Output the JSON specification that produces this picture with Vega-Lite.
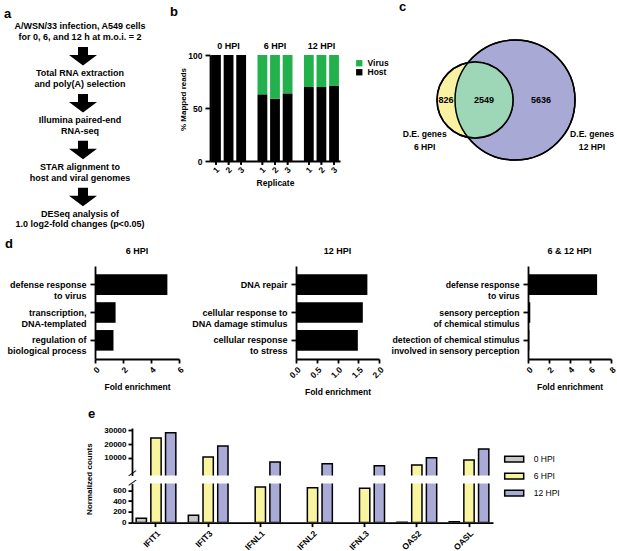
{
  "$schema": "https://vega.github.io/schema/vega-lite/v6.json",
  "background": "white",
  "padding": {"left": 4, "top": 0, "right": 0, "bottom": 0},
  "config": {
    "font": "Liberation Sans",
    "view": {"stroke": null},
    "axis": {"domainColor": "#000", "domainWidth": 1.8, "tickColor": "#000", "tickWidth": 1.8, "tickSize": 4, "labelColor": "#000", "labelFontWeight": "bold", "labelFontSize": 8.5, "labelPadding": 2, "titleColor": "#000", "titleFontWeight": "bold", "titleFontSize": 8.5, "grid": false, "labelFlush": false, "labelOverlap": false},
    "legend": {"labelColor": "#000", "labelFontSize": 8.5, "labelFontWeight": "bold", "padding": 0},
    "title": {"color": "#000", "fontWeight": "bold", "fontSize": 9},
    "text": {"color": "#000", "fontWeight": "bold"}
  },
  "datasets": {
    "flow": [
      {"step": 0, "text": "A/WSN/33 infection, A549 cells\nfor 0, 6, and 12 h at m.o.i. = 2"},
      {"step": 1, "text": "Total RNA extraction\nand poly(A) selection"},
      {"step": 2, "text": "Illumina paired-end\nRNA-seq"},
      {"step": 3, "text": "STAR alignment to\nhost and viral genomes"},
      {"step": 4, "text": "DESeq analysis of\n1.0 log2-fold changes (p<0.05)"}
    ],
    "reads": [
      {"hpi": "0 HPI", "rep": "1", "type": "Host", "pct": 100}, {"hpi": "0 HPI", "rep": "1", "type": "Virus", "pct": 0},
      {"hpi": "0 HPI", "rep": "2", "type": "Host", "pct": 100}, {"hpi": "0 HPI", "rep": "2", "type": "Virus", "pct": 0},
      {"hpi": "0 HPI", "rep": "3", "type": "Host", "pct": 100}, {"hpi": "0 HPI", "rep": "3", "type": "Virus", "pct": 0},
      {"hpi": "6 HPI", "rep": "1", "type": "Host", "pct": 62.9}, {"hpi": "6 HPI", "rep": "1", "type": "Virus", "pct": 37.1},
      {"hpi": "6 HPI", "rep": "2", "type": "Host", "pct": 58.8}, {"hpi": "6 HPI", "rep": "2", "type": "Virus", "pct": 41.2},
      {"hpi": "6 HPI", "rep": "3", "type": "Host", "pct": 63.8}, {"hpi": "6 HPI", "rep": "3", "type": "Virus", "pct": 36.2},
      {"hpi": "12 HPI", "rep": "1", "type": "Host", "pct": 69.8}, {"hpi": "12 HPI", "rep": "1", "type": "Virus", "pct": 30.2},
      {"hpi": "12 HPI", "rep": "2", "type": "Host", "pct": 69.8}, {"hpi": "12 HPI", "rep": "2", "type": "Virus", "pct": 30.2},
      {"hpi": "12 HPI", "rep": "3", "type": "Host", "pct": 70.8}, {"hpi": "12 HPI", "rep": "3", "type": "Virus", "pct": 29.2}
    ],
    "go": [
      {"panel": "6 HPI", "term": "defense response|to virus", "fold": 5.17},
      {"panel": "6 HPI", "term": "transcription,|DNA-templated", "fold": 1.47},
      {"panel": "6 HPI", "term": "regulation of|biological process", "fold": 1.32},
      {"panel": "12 HPI", "term": "DNA repair", "fold": 1.72},
      {"panel": "12 HPI", "term": "cellular response to|DNA damage stimulus", "fold": 1.61},
      {"panel": "12 HPI", "term": "cellular response|to stress", "fold": 1.49},
      {"panel": "6 & 12 HPI", "term": "defense response|to virus", "fold": 6.66},
      {"panel": "6 & 12 HPI", "term": "sensory perception|of chemical stimulus", "fold": 0.22},
      {"panel": "6 & 12 HPI", "term": "detection of chemical stimulus|involved in sensory perception", "fold": 0.13}
    ],
    "counts": [
      {"gene": "IFIT1", "hpi": "0 HPI", "count": 80}, {"gene": "IFIT1", "hpi": "6 HPI", "count": 24400}, {"gene": "IFIT1", "hpi": "12 HPI", "count": 28300},
      {"gene": "IFIT3", "hpi": "0 HPI", "count": 136}, {"gene": "IFIT3", "hpi": "6 HPI", "count": 10500}, {"gene": "IFIT3", "hpi": "12 HPI", "count": 18600},
      {"gene": "IFNL1", "hpi": "0 HPI", "count": 0}, {"gene": "IFNL1", "hpi": "6 HPI", "count": 662}, {"gene": "IFNL1", "hpi": "12 HPI", "count": 6850},
      {"gene": "IFNL2", "hpi": "0 HPI", "count": 0}, {"gene": "IFNL2", "hpi": "6 HPI", "count": 650}, {"gene": "IFNL2", "hpi": "12 HPI", "count": 5600},
      {"gene": "IFNL3", "hpi": "0 HPI", "count": 0}, {"gene": "IFNL3", "hpi": "6 HPI", "count": 637}, {"gene": "IFNL3", "hpi": "12 HPI", "count": 4150},
      {"gene": "OAS2", "hpi": "0 HPI", "count": 8}, {"gene": "OAS2", "hpi": "6 HPI", "count": 4650}, {"gene": "OAS2", "hpi": "12 HPI", "count": 10000},
      {"gene": "OASL", "hpi": "0 HPI", "count": 18}, {"gene": "OASL", "hpi": "6 HPI", "count": 8300}, {"gene": "OASL", "hpi": "12 HPI", "count": 16400}
    ]
  },
  "resolve": {"scale": {"color": "independent", "fill": "independent"}, "legend": {"color": "independent", "fill": "independent"}},
  "spacing": 12,
  "vconcat": [
    {
      "spacing": 8,
      "resolve": {"scale": {"color": "independent", "fill": "independent"}, "legend": {"color": "independent", "fill": "independent"}},
      "vconcat": [
        {
          "hconcat": [
            {
              "title": {"text": "a", "anchor": "start", "frame": "group", "fontSize": 13, "offset": 1.5},
              "width": 156, "height": 172,
              "data": {"name": "flow"},
              "layer": [
                {
                  "mark": {"type": "text", "lineBreak": "\n", "fontSize": 9, "lineHeight": 10.5, "align": "center", "baseline": "middle", "yOffset": -3},
                  "encoding": {
                    "x": {"datum": 0.4872, "type": "quantitative", "scale": {"domain": [0, 1]}, "axis": null},
                    "y": {"field": "step", "type": "quantitative", "scale": {"domain": [0.548, 4.215], "reverse": true, "zero": false, "nice": false}, "axis": null},
                    "text": {"field": "text"}
                  }
                },
                {
                  "transform": [{"filter": "datum.step < 4"}],
                  "mark": {"type": "point", "shape": "M-0.357,-0.66H0.357V-0.09H1L0,0.66L-1,-0.09H-0.357Z", "size": 784, "filled": true, "fill": "#000", "opacity": 1, "strokeWidth": 0, "xOffset": 3, "yOffset": 27},
                  "encoding": {
                    "x": {"datum": 0.4872, "type": "quantitative"},
                    "y": {"field": "step", "type": "quantitative"}
                  }
                }
              ]
            },
            {
              "title": {"text": "b", "anchor": "start", "frame": "group", "fontSize": 13, "offset": 23.5, "dx": -40},
              "width": 130, "height": 106,
              "data": {"name": "reads"},
              "encoding": {
                "x": {"field": "hpi", "type": "nominal", "sort": null, "scale": {"type": "band", "domain": ["0 HPI", "6 HPI", "12 HPI"], "paddingInner": 0.26, "paddingOuter": 0.03}, "axis": {"labels": false, "ticks": false, "title": "Replicate", "titlePadding": 17}}
              },
              "layer": [
                {
                  "transform": [{"filter": "datum.rep == '1'"}],
                  "mark": {"type": "bar", "width": 9.8, "xOffset": -12.6},
                  "encoding": {
                    "y": {"field": "pct", "type": "quantitative", "stack": "zero", "scale": {"domain": [0, 100], "nice": false}, "axis": {"values": [0, 50, 100], "title": "% Mapped reads", "titleFontSize": 8, "titleX": -23, "titleY": 44, "tickSize": 5, "labelPadding": 3}},
                    "color": {"field": "type", "type": "nominal", "scale": {"domain": ["Virus", "Host"], "range": ["#22b14c", "#000000"]}, "legend": {"orient": "none", "legendX": 145, "legendY": 4, "title": null, "symbolType": "square", "symbolSize": 40, "symbolStrokeWidth": 0, "labelOffset": 4, "rowPadding": 0}},
                    "order": {"field": "type", "sort": "ascending"}
                  }
                },
                {
                  "transform": [{"filter": "datum.rep == '2'"}],
                  "mark": {"type": "bar", "width": 9.8, "xOffset": 0},
                  "encoding": {
                    "y": {"field": "pct", "type": "quantitative", "stack": "zero"},
                    "color": {"field": "type", "type": "nominal"},
                    "order": {"field": "type", "sort": "ascending"}
                  }
                },
                {
                  "transform": [{"filter": "datum.rep == '3'"}],
                  "mark": {"type": "bar", "width": 9.8, "xOffset": 12.6},
                  "encoding": {
                    "y": {"field": "pct", "type": "quantitative", "stack": "zero"},
                    "color": {"field": "type", "type": "nominal"},
                    "order": {"field": "type", "sort": "ascending"}
                  }
                },
                {
                  "transform": [{"filter": "datum.type == 'Host' && datum.rep == '2'"}],
                  "mark": {"type": "text", "fontSize": 9, "baseline": "middle", "yOffset": -9, "color": "#000"},
                  "encoding": {"y": {"datum": 100, "type": "quantitative"}, "text": {"field": "hpi"}}
                },
                {
                  "transform": [{"filter": "datum.type == 'Host' && datum.rep == '1'"}],
                  "mark": {"type": "text", "fontSize": 8.5, "angle": 315, "align": "center", "baseline": "middle", "xOffset": -12.6, "yOffset": 9, "color": "#000"},
                  "encoding": {"y": {"datum": 0, "type": "quantitative"}, "text": {"field": "rep"}}
                },
                {
                  "transform": [{"filter": "datum.type == 'Host' && datum.rep == '2'"}],
                  "mark": {"type": "text", "fontSize": 8.5, "angle": 315, "align": "center", "baseline": "middle", "xOffset": 0, "yOffset": 9, "color": "#000"},
                  "encoding": {"y": {"datum": 0, "type": "quantitative"}, "text": {"field": "rep"}}
                },
                {
                  "transform": [{"filter": "datum.type == 'Host' && datum.rep == '3'"}],
                  "mark": {"type": "text", "fontSize": 8.5, "angle": 315, "align": "center", "baseline": "middle", "xOffset": 12.6, "yOffset": 9, "color": "#000"},
                  "encoding": {"y": {"datum": 0, "type": "quantitative"}, "text": {"field": "rep"}}
                },
                {
                  "transform": [{"filter": "datum.type == 'Host'"}],
                  "mark": {"type": "tick", "orient": "vertical", "size": 3.5, "thickness": 1.5, "color": "#000", "opacity": 1, "yOffset": 2, "xOffset": -12.6},
                  "encoding": {"y": {"datum": 0, "type": "quantitative"}}
                },
                {
                  "transform": [{"filter": "datum.type == 'Host'"}],
                  "mark": {"type": "tick", "orient": "vertical", "size": 3.5, "thickness": 1.5, "color": "#000", "opacity": 1, "yOffset": 2, "xOffset": 0},
                  "encoding": {"y": {"datum": 0, "type": "quantitative"}}
                },
                {
                  "transform": [{"filter": "datum.type == 'Host'"}],
                  "mark": {"type": "tick", "orient": "vertical", "size": 3.5, "thickness": 1.5, "color": "#000", "opacity": 1, "yOffset": 2, "xOffset": 12.6},
                  "encoding": {"y": {"datum": 0, "type": "quantitative"}}
                }
              ]
            },
            {
              "title": {"text": "c", "anchor": "start", "frame": "group", "fontSize": 13, "offset": 23.25},
              "width": 200, "height": 160,
              "layer": [
                {
                  "data": {"values": [{"set": "12 HPI", "x": 5.8, "y": 2.8125}]},
                  "mark": {"type": "point", "shape": "circle", "size": 14400, "filled": true, "fill": "#a9a9d6", "stroke": "#000", "strokeWidth": 1.5, "opacity": 1},
                  "encoding": {
                    "x": {"field": "x", "type": "quantitative", "scale": {"domain": [0, 10], "zero": false, "nice": false}, "axis": null},
                    "y": {"field": "y", "type": "quantitative", "scale": {"domain": [0, 10], "reverse": true, "zero": false, "nice": false}, "axis": null}
                  }
                },
                {
                  "data": {"values": [{"set": "6 HPI", "x": 3.8, "y": 2.8125}]},
                  "mark": {"type": "point", "shape": "circle", "size": 5776, "filled": true, "fill": "#f9f2a2", "stroke": "#000", "strokeWidth": 1.5, "opacity": 1},
                  "encoding": {"x": {"field": "x", "type": "quantitative"}, "y": {"field": "y", "type": "quantitative"}}
                },
                {
                  "data": {"values": [{"set": "both", "x": 3.8, "y": 2.8125}]},
                  "mark": {"type": "point", "shape": "M-0.1829,-0.9832A1,1,0,1,1,-0.1829,0.9832A1.5789,1.5789,0,0,1,-0.1829,-0.9832Z", "size": 5776, "filled": true, "fill": "#9ed6b8", "strokeWidth": 0, "opacity": 1},
                  "encoding": {"x": {"field": "x", "type": "quantitative"}, "y": {"field": "y", "type": "quantitative"}}
                },
                {
                  "data": {"values": [{"set": "6 HPI", "x": 3.8, "y": 2.8125}]},
                  "mark": {"type": "point", "shape": "circle", "size": 5776, "filled": false, "stroke": "#000", "strokeWidth": 1.5, "opacity": 1},
                  "encoding": {"x": {"field": "x", "type": "quantitative"}, "y": {"field": "y", "type": "quantitative"}}
                },
                {
                  "data": {"values": [{"set": "12 HPI", "x": 5.8, "y": 2.8125}]},
                  "mark": {"type": "point", "shape": "circle", "size": 14400, "filled": false, "stroke": "#000", "strokeWidth": 1.5, "opacity": 1},
                  "encoding": {"x": {"field": "x", "type": "quantitative"}, "y": {"field": "y", "type": "quantitative"}}
                },
                {
                  "data": {"values": [{"n": "826", "x": 2.35, "y": 2.8125}, {"n": "2549", "x": 4.25, "y": 2.8125}, {"n": "5636", "x": 7.1, "y": 2.8125}]},
                  "mark": {"type": "text", "fontSize": 9, "align": "center", "baseline": "middle"},
                  "encoding": {"x": {"field": "x", "type": "quantitative"}, "y": {"field": "y", "type": "quantitative"}, "text": {"field": "n"}}
                },
                {
                  "data": {"values": [{"t": "D.E. genes\n6 HPI", "x": 1.285, "y": 4.919}, {"t": "D.E. genes\n12 HPI", "x": 9.65, "y": 4.919}]},
                  "mark": {"type": "text", "fontSize": 8.6, "lineBreak": "\n", "lineHeight": 13, "align": "center", "baseline": "middle"},
                  "encoding": {"x": {"field": "x", "type": "quantitative"}, "y": {"field": "y", "type": "quantitative"}, "text": {"field": "t"}}
                }
              ]
            }
          ],
          "spacing": 10,
          "resolve": {"scale": {"color": "independent", "fill": "independent"}, "legend": {"color": "independent", "fill": "independent"}}
        },
        {
          "title": {"text": "d", "anchor": "start", "fontSize": 13, "offset": -4, "dx": 1},
          "spacing": 0,
          "hconcat": [
            {"width": 1.5, "height": 10, "data": {"values": []}, "mark": "point"},
            {
              "spacing": 5,
              "hconcat": [
                {
                  "title": {"text": "6 HPI", "offset": 10},
                  "width": 84, "height": 93,
                  "data": {"name": "go"},
                  "transform": [{"filter": "datum.panel == '6 HPI'"}],
                  "mark": {"type": "bar", "color": "#000"},
                  "encoding": {
                    "y": {"field": "term", "type": "nominal", "sort": null, "scale": {"paddingInner": 0.26, "paddingOuter": 0.3}, "axis": {"title": null, "labelExpr": "split(datum.label, '|')", "labelFontSize": 9, "labelLineHeight": 11, "labelPadding": 4, "tickSize": 5, "labelLimit": 0}},
                    "x": {"field": "fold", "type": "quantitative", "scale": {"domain": [0, 6], "nice": false}, "axis": {"values": [0, 2, 4, 6], "labelAngle": -45, "title": "Fold enrichment", "titlePadding": 8}}
                  }
                },
                {
                  "title": {"text": "12 HPI", "offset": 10},
                  "width": 83, "height": 93,
                  "data": {"name": "go"},
                  "transform": [{"filter": "datum.panel == '12 HPI'"}],
                  "mark": {"type": "bar", "color": "#000"},
                  "encoding": {
                    "y": {"field": "term", "type": "nominal", "sort": null, "scale": {"paddingInner": 0.26, "paddingOuter": 0.3}, "axis": {"title": null, "labelExpr": "split(datum.label, '|')", "labelFontSize": 9, "labelLineHeight": 11, "labelPadding": 4, "tickSize": 5, "labelLimit": 0}},
                    "x": {"field": "fold", "type": "quantitative", "scale": {"domain": [0, 2], "nice": false}, "axis": {"values": [0, 0.5, 1, 1.5, 2], "format": ".1f", "labelAngle": -45, "title": "Fold enrichment", "titlePadding": 8}}
                  }
                },
                {
                  "title": {"text": "6 & 12 HPI", "offset": 10},
                  "width": 83, "height": 93,
                  "data": {"name": "go"},
                  "transform": [{"filter": "datum.panel == '6 & 12 HPI'"}],
                  "mark": {"type": "bar", "color": "#000"},
                  "encoding": {
                    "y": {"field": "term", "type": "nominal", "sort": null, "scale": {"paddingInner": 0.26, "paddingOuter": 0.3}, "axis": {"title": null, "labelExpr": "split(datum.label, '|')", "labelFontSize": 8.7, "labelLineHeight": 11, "labelPadding": 4, "tickSize": 5, "labelLimit": 0}},
                    "x": {"field": "fold", "type": "quantitative", "scale": {"domain": [0, 8], "nice": false}, "axis": {"values": [0, 2, 4, 6, 8], "labelAngle": -45, "title": "Fold enrichment", "titlePadding": 8}}
                  }
                }
              ]
            }
          ]
        }
      ]
    },
    {
      "hconcat": [
        {"width": 79.5, "height": 10, "data": {"values": []}, "mark": "point"},
        {
          "bounds": "flush",
          "spacing": 7.6,
          "resolve": {"scale": {"color": "independent", "fill": "independent"}, "legend": {"color": "independent", "fill": "independent"}},
          "vconcat": [
            {
              "title": {"text": "e", "anchor": "start", "frame": "group", "fontSize": 13, "offset": 5, "dx": -44},
              "width": 361, "height": 47.4,
              "data": {"name": "counts"},
              "encoding": {
                "x": {"field": "gene", "type": "nominal", "sort": null, "scale": {"type": "band", "domain": ["IFIT1", "IFIT3", "IFNL1", "IFNL2", "IFNL3", "OAS2", "OASL"], "paddingInner": 0.24, "paddingOuter": 0.08}, "axis": null},
                "y": {"field": "count", "type": "quantitative", "scale": {"domain": [-3000, 31800], "zero": false, "nice": false}, "axis": {"values": [10000, 20000, 30000], "format": "d", "title": null, "labelFontSize": 8}}
              },
              "layer": [
                {"transform": [{"filter": "datum.count > 725 && datum.hpi == '0 HPI'"}], "mark": {"type": "bar", "stroke": "#000", "strokeWidth": 1.5, "clip": true, "width": 10.3, "xOffset": -14.7},
                 "encoding": {"y2": {"datum": -4000}, "fill": {"field": "hpi", "type": "nominal", "scale": {"domain": ["0 HPI", "6 HPI", "12 HPI"], "range": ["#c8c8c8", "#f9f4a0", "#aaaad6"]}, "legend": null}}},
                {"transform": [{"filter": "datum.count > 725 && datum.hpi == '6 HPI'"}], "mark": {"type": "bar", "stroke": "#000", "strokeWidth": 1.5, "clip": true, "width": 10.3, "xOffset": 0},
                 "encoding": {"y2": {"datum": -4000}, "fill": {"field": "hpi", "type": "nominal", "legend": null}}},
                {"transform": [{"filter": "datum.count > 725 && datum.hpi == '12 HPI'"}], "mark": {"type": "bar", "stroke": "#000", "strokeWidth": 1.5, "clip": true, "width": 10.3, "xOffset": 14.7},
                 "encoding": {"y2": {"datum": -4000}, "fill": {"field": "hpi", "type": "nominal", "legend": null}}},
                {"transform": [{"filter": "datum.gene == 'IFIT1' && datum.hpi == '0 HPI'"}], "mark": {"type": "text", "text": "\u2014", "fontSize": 9, "angle": 325, "align": "center", "baseline": "middle", "xOffset": -24, "yOffset": -2.7, "color": "#000"},
                 "encoding": {"y": {"datum": -3000, "type": "quantitative"}}}
              ]
            },
            {
              "width": 361, "height": 39,
              "data": {"name": "counts"},
              "encoding": {
                "x": {"field": "gene", "type": "nominal", "sort": null, "scale": {"type": "band", "domain": ["IFIT1", "IFIT3", "IFNL1", "IFNL2", "IFNL3", "OAS2", "OASL"], "paddingInner": 0.24, "paddingOuter": 0.08}, "axis": {"title": null, "labelAngle": -45}},
                "y": {"field": "count", "type": "quantitative", "scale": {"domain": [0, 725], "nice": false}, "axis": {"values": [0, 200, 400, 600], "format": "d", "title": "Normalized counts", "titleFontSize": 8, "titleX": -39, "titleY": -5, "labelFontSize": 8}}
              },
              "layer": [
                {"transform": [{"filter": "datum.hpi == '0 HPI' && datum.count > 0"}], "mark": {"type": "bar", "stroke": "#000", "strokeWidth": 1.5, "clip": true, "width": 10.3, "xOffset": -14.7},
                 "encoding": {"fill": {"field": "hpi", "type": "nominal", "scale": {"domain": ["0 HPI", "6 HPI", "12 HPI"], "range": ["#c8c8c8", "#f9f4a0", "#aaaad6"]}, "legend": {"orient": "none", "legendX": 371.7, "legendY": -35, "title": null, "symbolType": "M-1,-0.3H1V0.3H-1Z", "symbolSize": 361, "symbolStrokeColor": "#000", "symbolStrokeWidth": 1.5, "labelFontWeight": "normal", "labelFontSize": 8.5, "labelOffset": 9, "rowPadding": -9.1}}}},
                {"transform": [{"filter": "datum.hpi == '6 HPI' && datum.count > 0"}], "mark": {"type": "bar", "stroke": "#000", "strokeWidth": 1.5, "clip": true, "width": 10.3, "xOffset": 0},
                 "encoding": {"fill": {"field": "hpi", "type": "nominal"}}},
                {"transform": [{"filter": "datum.hpi == '12 HPI' && datum.count > 0"}], "mark": {"type": "bar", "stroke": "#000", "strokeWidth": 1.5, "clip": true, "width": 10.3, "xOffset": 14.7},
                 "encoding": {"fill": {"field": "hpi", "type": "nominal"}}},
                {"transform": [{"filter": "datum.gene == 'IFIT1' && datum.hpi == '0 HPI'"}], "mark": {"type": "text", "text": "\u2014", "fontSize": 9, "angle": 325, "align": "center", "baseline": "middle", "xOffset": -24, "yOffset": -1.3, "color": "#000"},
                 "encoding": {"y": {"datum": 725, "type": "quantitative"}}}
              ]
            }
          ]
        }
      ],
      "spacing": 0,
      "resolve": {"scale": {"color": "independent", "fill": "independent"}, "legend": {"color": "independent", "fill": "independent"}}
    }
  ]
}
